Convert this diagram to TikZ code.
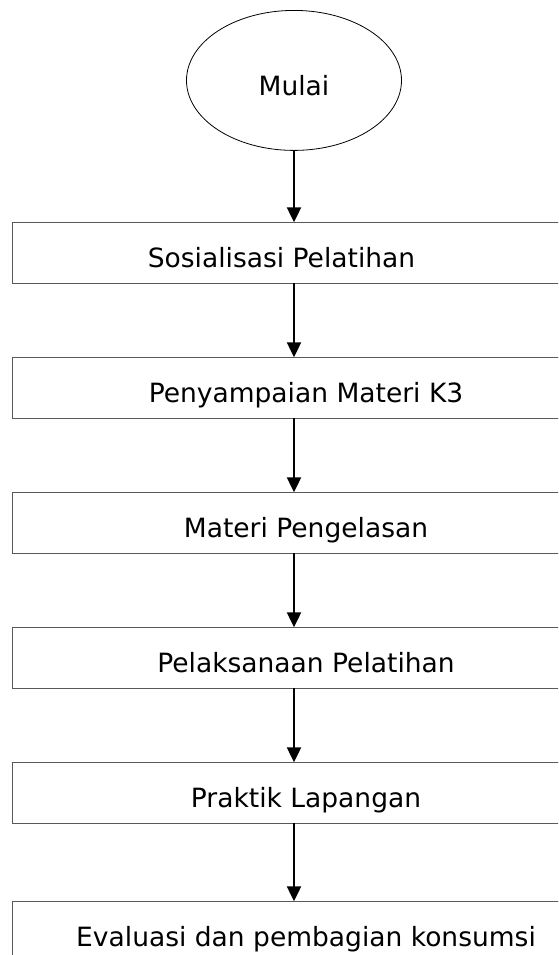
\documentclass[tikz,border=0pt]{standalone}
\usepackage{fontspec}
\setmainfont{DejaVu Sans}
\usetikzlibrary{matrix,arrows.meta,shapes.geometric}

\tikzset{
  stepbox/.style={rectangle, draw=black!65, line width=1pt, minimum width=586pt, minimum height=61pt,
    inner sep=0pt, outer sep=0pt, text height=30pt, text depth=0pt, font=\fontsize{26.5}{30}\selectfont},
  start/.style={ellipse, draw=black, line width=0.8pt, minimum width=215pt, minimum height=140pt, xshift=-12pt},
  flow/.style={-{Triangle[length=15pt,width=14pt]}, line width=2.2pt}
}

\begin{document}
\begin{tikzpicture}[x=1pt,y=1pt]
  \clip (0,0) rectangle (558,-955);
  \matrix (m) [matrix of nodes, row sep=73pt, nodes={stepbox}, anchor=north, inner sep=0pt, outer sep=0pt] at (306,-10)
  {
|[start]| Mulai \\[-2pt]
\hspace*{-49pt}Sosialisasi Pelatihan \\
Penyampaian Materi K3 \\
Materi Pengelasan \\
Pelaksanaan Pelatihan \\
Praktik Lapangan \\[4pt]
Evaluasi dan pembagian konsumsi \\
};
  \foreach \i/\j in {1/2,2/3,3/4,4/5,5/6,6/7}
    \path[flow] (m-\i-1.south -| m-1-1) edge (m-\j-1.north -| m-1-1);
\end{tikzpicture}
\end{document}
